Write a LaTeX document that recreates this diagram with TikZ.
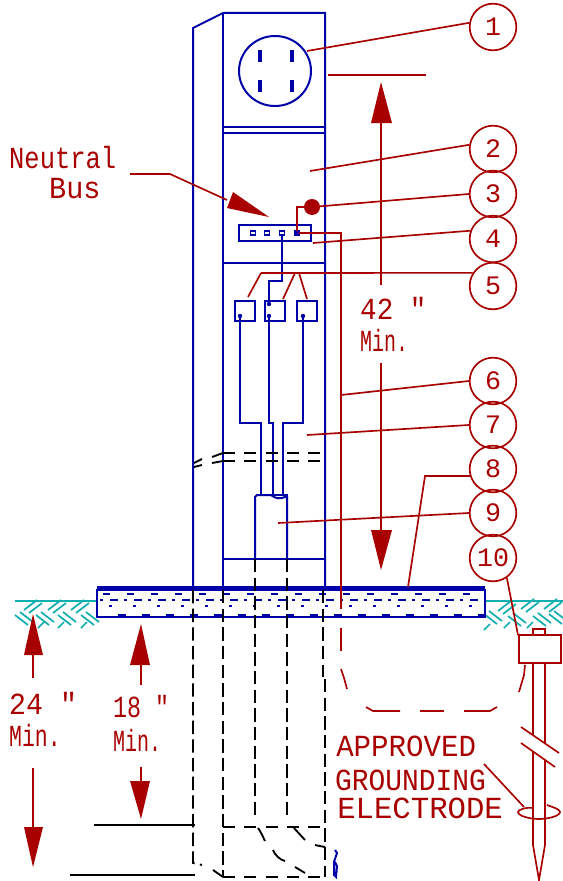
\documentclass[tikz,border=0pt]{standalone}
\usepackage{fontspec}
\newfontfamily\cadfont{Liberation Mono}
\usetikzlibrary{calc}
\definecolor{cadred}{HTML}{A80000}
\definecolor{cadblue}{HTML}{0000A8}
\definecolor{cadteal}{HTML}{10AEAE}
\tikzset{
  panel/.style={draw=cadblue,line width=1.5pt},
  redline/.style={draw=cadred,line width=1.25pt},
  solidblack/.style={draw=black,line width=1.4pt},
  hidden/.style={draw=black,line width=1.4pt,dash pattern=on 10pt off 4pt},
  hiddenh/.style={draw=black,line width=1.4pt,dash pattern=on 9pt off 7pt},
  callout/.style={circle,draw=cadred,line width=1.25pt,minimum size=35pt,inner sep=0pt,
    text=cadred,font=\cadfont\fontsize{20pt}{20pt}\selectfont},
  cadtext/.style={text=cadred,inner sep=0pt,transform shape,font=\cadfont\fontsize{23pt}{23pt}\selectfont},
  soil/.style={draw=cadteal,line width=1.3pt}
}
\begin{document}
\begin{tikzpicture}[x=0.75pt,y=-0.75pt]
  \useasboundingbox (0,0) rectangle (563,881);
  % ground line and soil
  \draw[soil,line width=1.5pt] (15,601) -- (97,601);
  \draw[soil,line width=1.5pt] (485,601) -- (563,601);
  \foreach \x/\y in {33/606,57/606,80/606,507/607,530/605,553/605} {
      \draw[soil] (\x-9,\y+4) -- (\x+4,\y-6);
      \draw[soil] (\x-4,\y+7) -- (\x+9,\y-3);
  }
  \foreach \x/\y in {24/619,45/619,67/619,90/619,493/618,517/620,542/620,558/618} {
      \draw[soil] (\x-9,\y-4) -- (\x+4,\y+6);
      \draw[soil] (\x-4,\y-7) -- (\x+9,\y+3);
  }
  \foreach \x/\y in {41/625,61/625,84/625,487/627,507/625,530/625} {
      \draw[soil] (\x-3,\y+3) -- (\x+3,\y-3);
  }
  % slab
  \draw[panel] (97,590) rectangle (485,617);
  \draw[panel,line width=2pt] (97,587.5) -- (485,587.5);
  \foreach \x in {0,...,15} {
      \draw[panel] (103+\x*24,593.5) -- (110+\x*24,593.5);
      \draw[panel] (100+\x*24,599.5) -- (103+\x*24,599.5);
      \draw[panel] (110+\x*24,599.5) -- (118+\x*24,599.5);
      \draw[panel] (109+\x*24,606) -- (112+\x*24,606);
      \draw[panel] (118+\x*24,614.5) -- (126+\x*24,614.5);
  }
  % cabinet
  \draw[panel] (193,590) -- (193,28) -- (223,13) -- (325,13) -- (325,590);
  \draw[panel] (223,13) -- (223,590);
  \draw[panel] (223,127) -- (325,127);
  \draw[panel] (223,133) -- (325,133);
  \draw[panel] (223,263) -- (325,263);
  \draw[panel] (223,559) -- (325,559);
  % meter socket
  \draw[panel] (275,71) ellipse (36 and 35);
  \foreach \x/\y in {260/56,292/56,260/86,292/86} {
      \fill[cadblue] (\x-1.8,\y-6) rectangle (\x+1.8,\y+6);
  }
  % neutral bus
  \draw[panel] (239,225) rectangle (311,241);
  \foreach \x in {253,267,282,297} {
      \draw[panel,line width=1.2pt] (\x-2.4,231) rectangle (\x+2.4,235);
  }
  % breakers and wires
  \draw[panel] (235,301) rectangle (255,321);
  \draw[panel] (265,301) rectangle (285,321);
  \draw[panel] (297,301) rectangle (317,321);
  \draw[panel] (282,235) -- (282,281) -- (269,281) -- (269,304);
  \draw[panel] (240,316) -- (240,423) -- (261,423) -- (261,495);
  \draw[panel] (269,316) -- (269,423) -- (273,423) -- (273,497);
  \draw[panel] (303,316) -- (303,423) -- (283,423) -- (283,495);
  \foreach \x/\y in {269/304,240/316,269/316,303/316} {
      \fill[cadblue] (\x,\y) circle (2.2);
  }
  % conduit
  \draw[panel] (255,559) -- (255,497) -- (257,495) -- (271,495)
  .. controls (276,499) and (280,499) .. (285,497) -- (287,497) -- (287,559);
  \draw[panel] (271,495) -- (287,495) -- (287,497);
  \draw[panel] (335,850) -- (337,853) -- (334,862) -- (334,875) -- (336,877) -- (337,866) -- (335,862);
  % break lines
  \draw[hiddenh] (223,453) -- (325,453);
  \draw[hiddenh] (223,461) -- (325,461);
  \draw[solidblack] (194,463) -- (202,459);
  \draw[solidblack] (194,467) -- (202,465);
  \draw[solidblack] (212,457) -- (223,453);
  \draw[solidblack] (212,463) -- (223,461);
  % below grade
  \draw[hidden] (193,590) -- (193,863) -- (202,865);
  \draw[hidden] (223,590) -- (223,877);
  \draw[hidden] (255,559) -- (255,815) -- (258,819);
  \draw[hidden] (287,559) -- (287,815) -- (290,819);
  \draw[hidden] (323,590) -- (323,677);
  \draw[hidden] (325,679) -- (325,877);
  \draw[hiddenh] (223,827) -- (325,827);
  \draw[hiddenh] (223,877) -- (325,877);
  \draw[solidblack] (213,870) -- (223,877);
  \draw[solidblack] (258,828) .. controls (261,832) and (263,837) .. (265,841);
  \draw[solidblack] (273,850) .. controls (275,855) and (280,860) .. (285,861);
  \draw[solidblack] (295,867) -- (305,873);
  \draw[solidblack] (294,828) -- (305,840);
  \draw[solidblack] (315,845) -- (325,847);
  \draw[solidblack] (94,825) -- (195,825);
  \draw[solidblack] (70,875) -- (195,875);
  % callouts
  \foreach \n/\y in {1/27,2/149,3/194,4/239,5/286,6/381,7/425,8/469,9/513,10/558} {
      \node[callout] (c\n) at (493,\y) {\n};
  }
  \coordinate (socket) at (307,51);
  \coordinate (upper) at (310,171);
  \coordinate (lug) at (312,207);
  \coordinate (busbar) at (313,243);
  \coordinate (feeder) at (261,273);
  \coordinate (gec) at (341,395);
  \coordinate (inner) at (307,435);
  \coordinate (slabtop) at (408,587);
  \coordinate (sleeve) at (278,523);
  \coordinate (clamp) at (518,635);
  \draw[redline] (socket) -- (c1.170);
  \draw[redline] (upper) -- (c2.170);
  \draw[redline] (lug) -- (c3.west);
  \draw[redline] (busbar) -- (c4.160);
  \draw[redline] (feeder) -- (c5.147);
  \draw[redline] (feeder) -- (248,297);
  \draw[redline] (295,273) -- (283,299);
  \draw[redline] (299,273) -- (307,299);
  \draw[redline] (gec) -- (c6.west);
  \draw[redline] (inner) -- (c7.west);
  \draw[redline] (slabtop) -- (425,476) -- (c8.197);
  \draw[redline] (sleeve) -- (c9.west);
  \draw[redline] (clamp) -- (c10.-55);
  % grounding conductor
  \fill[cadred] (lug) circle (8);
  \draw[redline] (lug) -- (297,207) -- (297,233) -- (341,233) -- (341,609);
  \fill[cadblue] (295,231) rectangle (299,235);
  \draw[redline] (341,628) -- (341,651);
  \draw[redline] (341,669) -- (344,678) -- (347,689);
  \draw[redline] (366,707) -- (373,711) -- (400,711);
  \draw[redline] (420,711) -- (444,711);
  \draw[redline] (464,711) -- (490,711) -- (497,707);
  \draw[redline] (525,665) -- (524,675) -- (519,692);
  % electrode
  \draw[redline] (519,635) rectangle (561,663);
  \draw[redline] (533,635) -- (533,629) -- (545,629) -- (545,635);
  \draw[redline] (533,663) -- (533,735);
  \draw[redline] (533,751) -- (533,845) -- (539,880) -- (545,845) -- (545,759);
  \draw[redline] (545,663) -- (545,743);
  \draw[redline] (521,727) -- (559,753);
  \draw[redline] (521,743) -- (555,767);
  \draw[redline] (533,808) .. controls (525,807) and (518,810) .. (518,812)
  .. controls (518,816) and (530,819) .. (539,819)
  .. controls (548,819) and (560,816) .. (560,812)
  .. controls (560,809) and (552,807) .. (547,805);
  \draw[redline] (484,764) -- (524,807);
  % dimensions
  \draw[redline] (328,75) -- (426,75);
  \fill[cadred] (381,82) -- (392,123) -- (371,123) -- cycle;
  \draw[redline] (381,123) -- (381,285);
  \draw[redline] (381,363) -- (381,530);
  \fill[cadred] (381,570) -- (392,530) -- (371,530) -- cycle;
  \fill[cadred] (33,614) -- (43,655) -- (24,655) -- cycle;
  \draw[redline] (33,655) -- (33,678);
  \draw[redline] (33,768) -- (33,827);
  \fill[cadred] (33,867) -- (43,827) -- (24,827) -- cycle;
  \fill[cadred] (141,624) -- (150,665) -- (130,665) -- cycle;
  \draw[redline] (141,665) -- (141,685);
  \draw[redline] (141,767) -- (141,781);
  \fill[cadred] (141,819) -- (150,781) -- (130,781) -- cycle;
  % neutral bus arrow
  \draw[redline] (130,174) -- (170,174) -- (227,200);
  \fill[cadred] (269,217) -- (233,192) -- (227,208) -- cycle;
  % labels
  \node[cadtext,anchor=west,xscale=0.83] (neutral) at (9,158) {Neutral};
  \node[cadtext,anchor=west,xscale=0.93] (bus) at (49,189) {Bus};
  \node[cadtext,anchor=west,xscale=0.9] (tall) at (360,308) {42 "};
  \node[cadtext,anchor=west,xscale=0.65] (tallmin) at (360,340) {Min.};
  \node[cadtext,anchor=west,xscale=0.92] (deep) at (9,703) {24 "};
  \node[cadtext,anchor=west,xscale=0.7] (deepmin) at (9,735) {Min.};
  \node[cadtext,anchor=west,xscale=0.76] (shallow) at (113,707) {18 "};
  \node[cadtext,anchor=west,xscale=0.65] (shallowmin) at (113,740) {Min.};
  \node[cadtext,anchor=west,xscale=0.95] (approved) at (336,746) {APPROVED};
  \node[cadtext,anchor=west,xscale=0.91] (grounding) at (335,780) {GROUNDING};
  \node[cadtext,anchor=west,xscale=1] (electrode) at (337,808) {ELECTRODE};
\end{tikzpicture}
\end{document}
